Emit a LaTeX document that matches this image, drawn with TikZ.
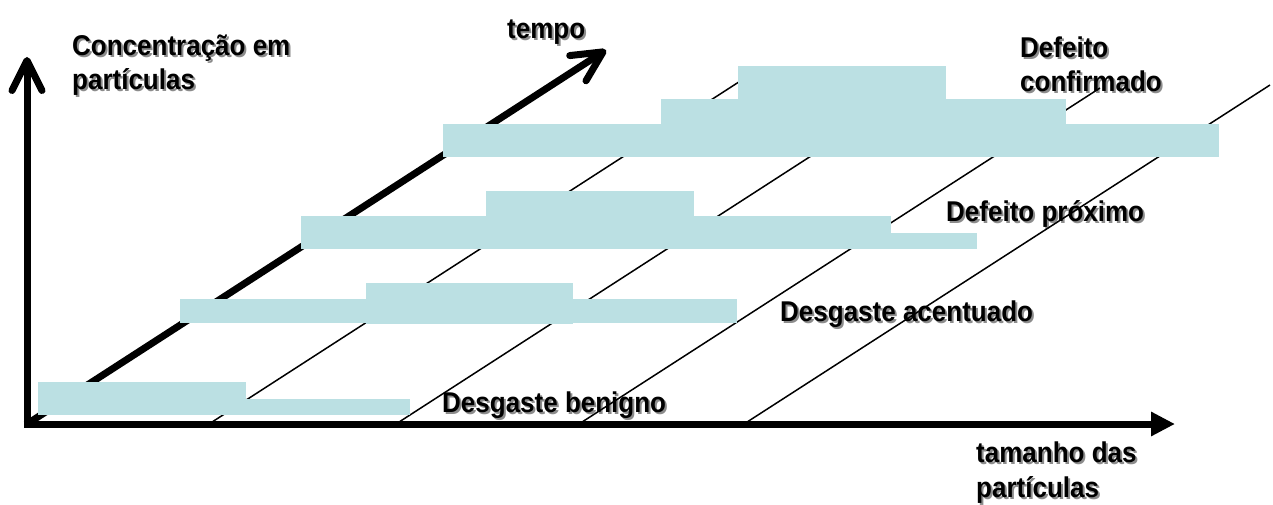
\documentclass[tikz,border=0pt]{standalone}
\usepackage{fontspec}
\usepackage{graphicx}
\setmainfont{Liberation Sans}
\usetikzlibrary{arrows.meta}
\definecolor{barfill}{RGB}{187,224,227}
\definecolor{shadowgray}{RGB}{140,140,140}
\newcommand\shtxt[4]{%
  \node[lblsh] (#1s) at (#2+2,#3+2) {\scalebox{1}[1.1]{#4}};
  \node[lbl] (#1) at (#2,#3) {\scalebox{1}[1.1]{#4}};}
\begin{document}
\begin{tikzpicture}[x=1pt,y=-1pt,
  lbl/.style={anchor=base west, inner sep=0pt, font=\fontsize{26}{34}\selectfont\bfseries, text=black},
  lblsh/.style={lbl, text=shadowgray},
  bar/.style={fill=barfill, draw=none},
  gridline/.style={line width=1.5pt, black},
  axis/.style={line width=7pt, black},
]
\useasboundingbox (0,0) rectangle (1273,505);

% texts
\shtxt{yl1}{72}{56}{Concentração em}
\shtxt{yl2}{72}{90}{partículas}
\shtxt{tl}{507}{39}{tempo}
\shtxt{dc1}{1020}{58}{Defeito}
\shtxt{dc2}{1020}{92}{confirmado}
\shtxt{dp}{946}{221}{Defeito próximo}
\shtxt{da}{780}{321}{Desgaste acentuado}
\shtxt{db}{442}{412}{Desgaste benigno}
\shtxt{xl1}{976}{462}{tamanho das}
\shtxt{xl2}{976}{497}{partículas}

% thin diagonal lines
\coordinate (a1) at (209,424); \coordinate (b1) at (745,78);
\coordinate (a2) at (396,424); \coordinate (b2) at (921,85);
\coordinate (a3) at (579,424); \coordinate (b3) at (1100,88);
\coordinate (a4) at (744,424); \coordinate (b4) at (1270,85);
\draw[gridline] (a1) -- (b1);
\draw[gridline] (a2) -- (b2);
\draw[gridline] (a3) -- (b3);
\draw[gridline] (a4) -- (b4);

% axes coordinates
\coordinate (O) at (27,424);
\coordinate (Ytip) at (27,57);
\coordinate (Xtip) at (1175,424);
\coordinate (Ttip) at (606,50);
\coordinate (Ybot) at (27,427.5);
\coordinate (Xleft) at (23.5,424);

% time axis
\draw[axis, -{Straight Barb[length=30pt,width=30pt,round]}] (O) -- (Ttip);

% bars
\fill[bar] (38,382) rectangle (246,415);
\fill[bar] (246,399) rectangle (410,415);
\fill[bar] (180,299) rectangle (737,323);
\fill[bar] (366,283) rectangle (573,324);
\fill[bar] (301,216) rectangle (891,249);
\fill[bar] (486,191) rectangle (694,249);
\fill[bar] (891,233) rectangle (977,249);
\fill[bar] (443,124) rectangle (1219,157);
\fill[bar] (661,99) rectangle (1066,124);
\fill[bar] (738,66) rectangle (946,99);

% main axes
\draw[axis, -{Straight Barb[length=30pt,width=30pt,round]}] (Ybot) -- (Ytip);
\draw[axis, -{Triangle[length=24pt,width=23pt]}] (Xleft) -- (Xtip);
\end{tikzpicture}
\end{document}
